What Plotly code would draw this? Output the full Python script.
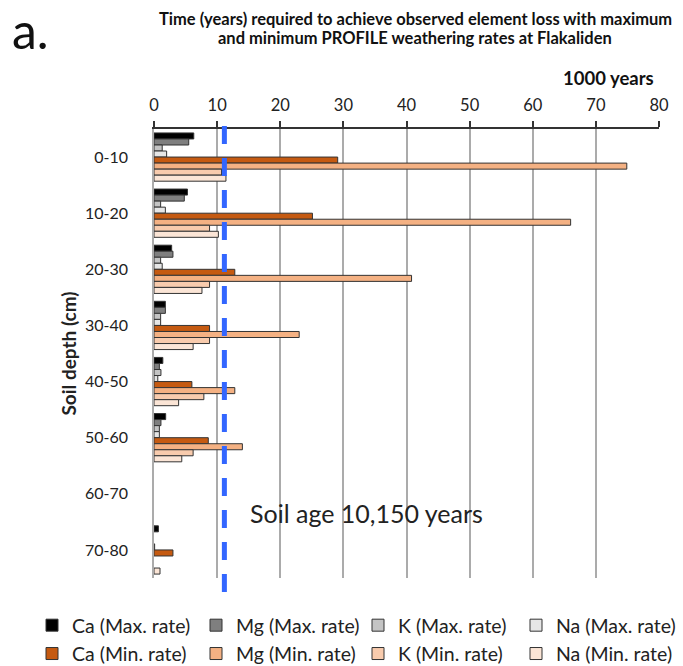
import plotly.graph_objects as go

depths = ["0-10", "10-20", "20-30", "30-40", "40-50", "50-60", "60-70", "70-80"]
ca_max = [6.3, 5.3, 2.8, 1.8, 1.4, 1.85, None, 0.7]
mg_max = [5.5, 4.8, 3.0, 1.8, 0.85, 1.1, None, None]
k_max = [1.3, 1.05, 1.05, 1.05, 1.1, 0.85, None, None]
na_max = [2.0, 1.8, 1.3, 1.05, 0.6, 0.85, None, 0.1]
ca_min = [29.1, 25.1, 12.8, 8.8, 6.0, 8.6, None, 3.0]
mg_min = [74.9, 66.0, 40.8, 23.0, 12.8, 14.0, None, None]
k_min = [10.7, 8.8, 8.8, 8.8, 7.9, 6.2, None, None]
na_min = [11.4, 10.2, 7.6, 6.2, 3.9, 4.4, None, 0.95]
soil_age = 11.15  # position of the dashed soil-age line (1000 years)

series = [
    ("Ca (Max. rate)", ca_max, "#000000", "legend"),
    ("Mg (Max. rate)", mg_max, "#7F7F7F", "legend2"),
    ("K (Max. rate)", k_max, "#C4C4C4", "legend3"),
    ("Na (Max. rate)", na_max, "#E6E6E6", "legend4"),
    ("Ca (Min. rate)", ca_min, "#C55A11", "legend"),
    ("Mg (Min. rate)", mg_min, "#F4B183", "legend2"),
    ("K (Min. rate)", k_min, "#F8CBAD", "legend3"),
    ("Na (Min. rate)", na_min, "#FBE5D6", "legend4"),
]

W, H = 683, 666
L, R, T, B = 154, 24, 129, 88
PW, PH = W - L - R, H - T - B


def px(xp):
    return (xp - L) / PW


def py(yp):
    return (H - B - yp) / PH


FONT = "Lato"
fig = go.Figure()
for name, vals, col, lg in series:
    fig.add_trace(go.Bar(
        y=depths, x=vals, name=name, orientation="h",
        marker=dict(color=col, line=dict(color="#333333", width=1)),
        legend=lg, legendgroup=name,
    ))

leg_common = dict(font=dict(family=FONT, size=19.5, color="#222"), bgcolor="rgba(0,0,0,0)",
                  xref="paper", yref="paper", yanchor="top", xanchor="left",
                  tracegroupgap=0, itemwidth=30, traceorder="grouped")
col_x = [32, 196, 358, 516]
legs = {}
for i, key in enumerate(["legend", "legend2", "legend3", "legend4"]):
    legs[key] = dict(leg_common, x=px(col_x[i]), y=py(606))

fig.update_layout(
    width=W, height=H,
    paper_bgcolor="white", plot_bgcolor="white",
    margin=dict(l=L, r=R, t=T, b=B, autoexpand=False),
    barmode="group", bargap=0.14, bargroupgap=0,
    font=dict(family=FONT, color="#222"),
    showlegend=True,
    **legs,
    xaxis=dict(side="top", range=[0, 80], dtick=10, tick0=0,
               showgrid=True, gridcolor="#ABABAB", gridwidth=1.5,
               showline=True, linecolor="#333333", linewidth=1.5,
               ticks="outside", ticklen=6, tickcolor="#333333", tickwidth=1.5,
               ticklabelstandoff=4,
               tickfont=dict(size=16.5, family=FONT, color="#222"), zeroline=False,
               automargin=False),
    yaxis=dict(autorange="reversed", showline=True, linecolor="#ABABAB", linewidth=1.5,
               ticks="", showgrid=False, tickfont=dict(size=16, family=FONT, color="#222"),
               ticklabelstandoff=21, automargin=False,
               title=dict(text="<b>Soil depth (cm)</b>", font=dict(size=19, family=FONT), standoff=3)),
    annotations=[
        dict(text="<b>Time (years) required to achieve observed element loss with maximum</b>",
             xref="paper", yref="paper", x=px(415), y=py(19), xanchor="center", yanchor="middle",
             showarrow=False, font=dict(size=16.5, family=FONT, color="#111")),
        dict(text="<b>and minimum PROFILE weathering rates at Flakaliden</b>",
             xref="paper", yref="paper", x=px(415), y=py(38), xanchor="center", yanchor="middle",
             showarrow=False, font=dict(size=16.5, family=FONT, color="#111")),
        dict(text="<b>1000 years</b>", xref="paper", yref="paper", x=px(608), y=py(78),
             xanchor="center", yanchor="middle", showarrow=False, font=dict(size=18.5, family=FONT, color="#111")),
        dict(text="a.", xref="paper", yref="paper", x=px(10), y=py(30),
             xanchor="left", yanchor="middle", showarrow=False, font=dict(size=50, family=FONT, color="#111")),
        dict(text="Soil age 10,150 years", xref="x", yref="y", x=14.9, y=6.35,
             xanchor="left", yanchor="middle", showarrow=False, font=dict(size=25, family=FONT, color="#222")),
    ],
    shapes=[
        dict(type="line", xref="x", yref="paper", x0=soil_age, x1=soil_age, y0=-0.031, y1=1.018,
             line=dict(color="#3366FF", width=5, dash="18px,14px"), layer="above"),
    ],
)

fig.write_html("out.html", config={"displayModeBar": False},
               post_script="document.body.style.margin='0';document.body.style.overflow='hidden';")
